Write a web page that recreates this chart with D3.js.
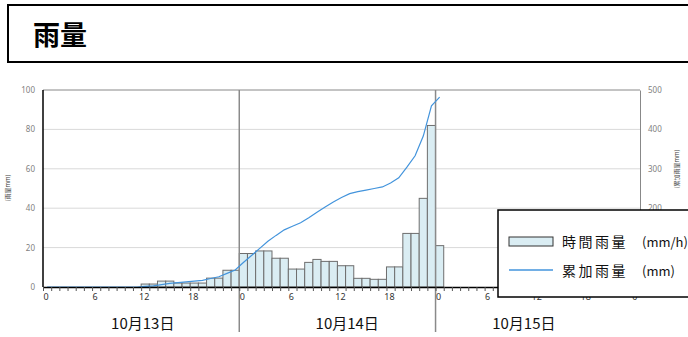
<!DOCTYPE html>
<html>
<head>
<meta charset="utf-8">
<script src="https://cdn.jsdelivr.net/npm/d3@7"></script>
<style>
  body { margin: 0; background: #fff; }
  svg { display: block; }
  .tick text { font-family: "Noto Sans", sans-serif; }
</style>
</head>
<body>
<div id="chart"></div>
<script>
// hourly rain (mm/h), index = hours from 10/13 0:00
var rainHourly = [0,0,0,0,0,0,0,0,0,0,0,0,
	1.5,1.5,3,3,2,2,2,2,4.5,4.5,8.5,8.5,
	17,17,18.3,18.3,14.6,14.6,9.1,9.1,12.5,14,13,13,10.8,10.8,4.4,4.4,3.9,3.9,10.2,10.2,27.2,27.2,45,82,
	21];
// cumulative rain (mm)
var rainTotal = [0,0,0,0,0,0,0,0,0,0,0,0,
	1.5,3,6,9,11,13,15,17,21.5,26,34.5,43,
	62,80,98,116,131,145,154,163,176,190,203,216,227,237,242,246,250,254,264,277,304,333,383,460,
	482];
var leftTicks = [0, 20, 40, 60, 80, 100];
var rightTicks = [0, 100, 200, 300, 400, 500];
var dayBreaks = [24, 48];
var dayLabels = ["10月13日", "10月14日", "10月15日"];
var dayLabelPos = [12.2, 37.2, 58.8];
var legendNames = ["時間雨量", "累加雨量"];
var legendUnits = ["(mm/h)", "(mm)"];

var W = 688, H = 337;
var margin = {top: 90, right: 48, bottom: 50, left: 43};
var x0 = margin.left, x1 = W - margin.right, yTop = margin.top, yBot = H - margin.bottom;

var svg = d3.select("#chart").append("svg")
	.attr("width", W)
	.attr("height", H);

svg.append("rect").attr("width", W).attr("height", H).attr("fill", "#fff");

// title box
svg.append("rect")
	.attr("x", 8).attr("y", 5)
	.attr("width", 690).attr("height", 57)
	.attr("fill", "#fff")
	.attr("stroke", "#000")
	.attr("stroke-width", 2);
svg.append("text")
	.attr("x", 33).attr("y", 45)
	.attr("font-family", "Noto Sans CJK JP")
	.attr("font-weight", "bold")
	.attr("font-size", 27)
	.text("雨量");

// scales
var x = d3.scaleLinear().domain([0, 73]).range([x0, x1]);
var yL = d3.scaleLinear().domain([0, 100]).range([yBot, yTop]);
var yR = d3.scaleLinear().domain([0, 500]).range([yBot, yTop]);

// gridlines
svg.append("g").selectAll("line")
	.data(leftTicks.slice(1, -1))
	.enter().append("line")
	.attr("x1", x0).attr("x2", x1)
	.attr("y1", function(d) { return yL(d); })
	.attr("y2", function(d) { return yL(d); })
	.attr("stroke", "#d9d9d9");

// top border
svg.append("line")
	.attr("x1", x0).attr("x2", x1)
	.attr("y1", yTop).attr("y2", yTop)
	.attr("stroke", "#888");

// bars
svg.append("g").selectAll("rect")
	.data(rainHourly.map(function(v, i) { return {h: i, v: v}; }).filter(function(d) { return d.v > 0; }))
	.enter().append("rect")
	.attr("x", function(d) { return x(d.h); })
	.attr("y", function(d) { return yL(d.v); })
	.attr("width", function(d) { return x(d.h + 1) - x(d.h); })
	.attr("height", function(d) { return yBot - yL(d.v); })
	.attr("fill", "#daedf3")
	.attr("stroke", "#6e6e6e")
	.attr("stroke-width", 1);

// day separators
svg.append("g").selectAll("line")
	.data(dayBreaks)
	.enter().append("line")
	.attr("x1", function(d) { return x(d); })
	.attr("x2", function(d) { return x(d); })
	.attr("y1", yTop).attr("y2", 332)
	.attr("stroke", "#8a8a8a")
	.attr("stroke-width", 1.5);

// cumulative line
var line = d3.line()
	.x(function(d, i) { return x(i + 0.5); })
	.y(function(d) { return yR(d); });
svg.append("path")
	.datum(rainTotal)
	.attr("d", line)
	.attr("fill", "none")
	.attr("stroke", "#4394dc")
	.attr("stroke-width", 1.2);

// x axis
var xAxis = svg.append("g")
	.attr("transform", "translate(0," + yBot + ")")
	.call(d3.axisBottom(x)
		.tickValues(d3.range(0, 73))
		.tickSize(4)
		.tickSizeOuter(0)
		.tickPadding(3)
		.tickFormat(function(d) { return d % 6 === 0 ? d % 24 : ""; }));
xAxis.select(".domain").attr("stroke", "#000").attr("stroke-width", 1.5);
xAxis.selectAll(".tick line").attr("stroke", "#555");
xAxis.selectAll(".tick text")
	.attr("dx", 2.5)
	.attr("font-size", 9)
	.attr("fill", "#333");

// left axis
var lAxis = svg.append("g")
	.attr("transform", "translate(" + x0 + ",0)")
	.call(d3.axisLeft(yL).tickValues(leftTicks).tickSize(0).tickPadding(8));
lAxis.select(".domain").remove();
lAxis.selectAll(".tick text").attr("font-size", 8).attr("fill", "#7f7f7f");
svg.append("line")
	.attr("x1", x0).attr("x2", x0)
	.attr("y1", yTop).attr("y2", yBot)
	.attr("stroke", "#000").attr("stroke-width", 1.5);

// right axis (lowest labels sit under the legend box, as in the original)
var rAxis = svg.append("g")
	.attr("transform", "translate(" + x1 + ",0)")
	.call(d3.axisRight(yR).tickValues(rightTicks.filter(function(d) { return d >= 200; })).tickSize(0).tickPadding(8));
rAxis.select(".domain").attr("stroke", "#888");
rAxis.selectAll(".tick text").attr("font-size", 8).attr("fill", "#7f7f7f");

// axis titles
svg.append("text")
	.attr("transform", "translate(10,188) rotate(-90)")
	.attr("text-anchor", "middle")
	.attr("font-family", "Noto Sans CJK JP")
	.attr("font-size", 6)
	.attr("fill", "#444")
	.text("(雨量mm)");
svg.append("text")
	.attr("transform", "translate(679,169) rotate(-90)")
	.attr("text-anchor", "middle")
	.attr("font-family", "Noto Sans CJK JP")
	.attr("font-size", 6)
	.attr("fill", "#444")
	.text("(累加雨量mm)");

// day labels
svg.append("g").selectAll("text")
	.data(dayLabels)
	.enter().append("text")
	.attr("x", function(d, i) { return x(dayLabelPos[i]); })
	.attr("y", 329)
	.attr("text-anchor", "middle")
	.attr("font-family", "Noto Sans CJK JP")
	.attr("font-size", 15)
	.attr("fill", "#111")
	.text(function(d) { return d; });

// legend
var legend = svg.append("g");
legend.append("rect")
	.attr("x", 498).attr("y", 210)
	.attr("width", 200).attr("height", 87)
	.attr("fill", "#fff")
	.attr("stroke", "#000")
	.attr("stroke-width", 1.5);
legend.append("rect")
	.attr("x", 509).attr("y", 237)
	.attr("width", 44).attr("height", 9)
	.attr("fill", "#daedf3")
	.attr("stroke", "#333");
legend.append("line")
	.attr("x1", 509).attr("x2", 553)
	.attr("y1", 270).attr("y2", 270)
	.attr("stroke", "#4394dc")
	.attr("stroke-width", 1.5);
var legText = legend.selectAll("text.leg")
	.data(legendNames)
	.enter().append("text")
	.attr("class", "leg")
	.attr("y", function(d, i) { return 247 + i * 29; })
	.attr("font-family", "Noto Sans CJK JP")
	.attr("fill", "#111");
legText.append("tspan")
	.attr("x", 562)
	.attr("font-size", 14)
	.attr("letter-spacing", 2.5)
	.text(function(d) { return d; });
legText.append("tspan")
	.attr("x", 642)
	.attr("font-size", 13)
	.text(function(d, i) { return legendUnits[i]; });
</script>
</body>
</html>
